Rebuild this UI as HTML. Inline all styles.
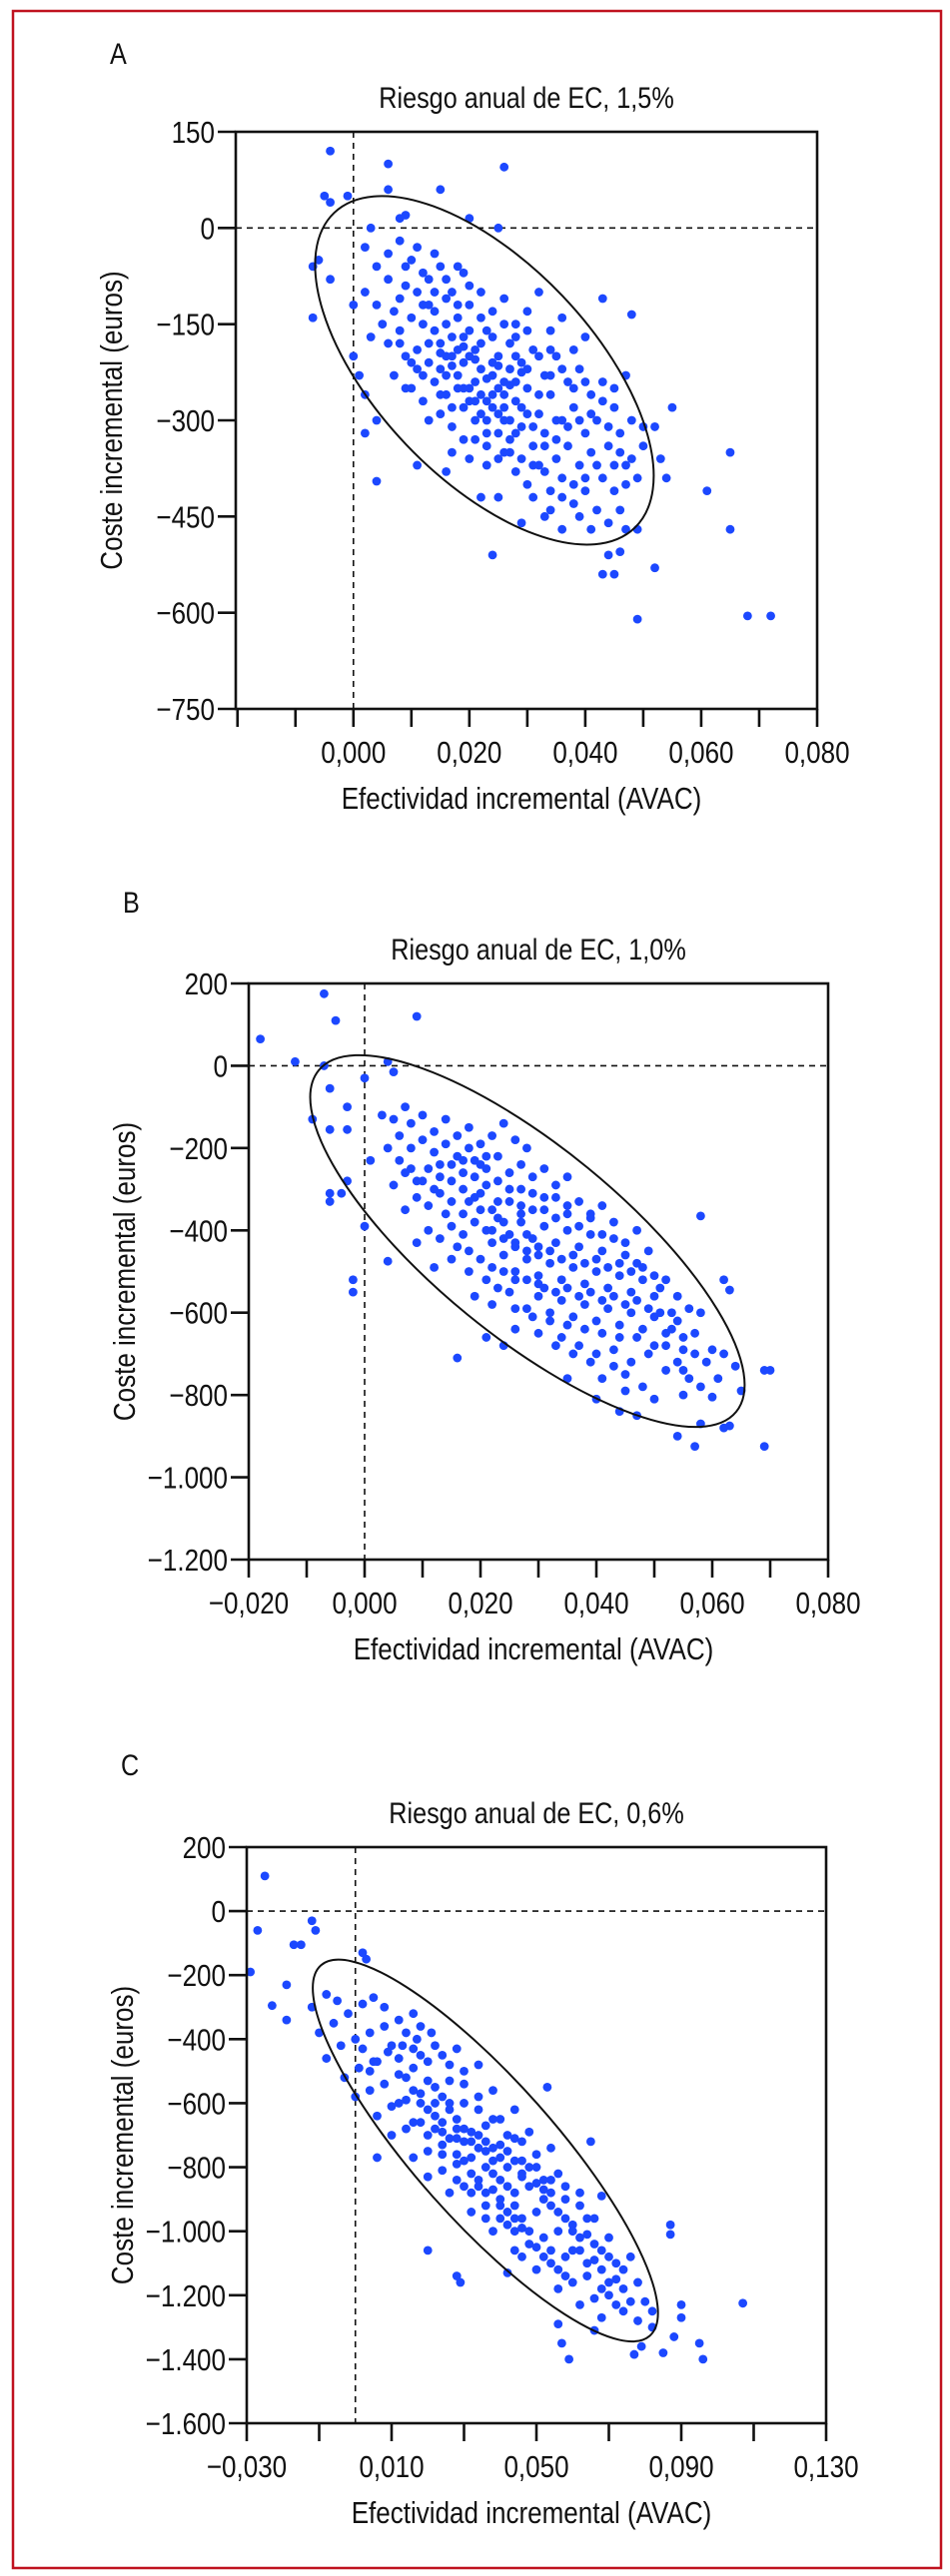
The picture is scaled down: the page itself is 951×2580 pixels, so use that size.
<!DOCTYPE html>
<html><head><meta charset="utf-8"><style>
html,body{margin:0;padding:0;background:#fff}
svg{display:block}
text{font-family:"Liberation Sans",sans-serif;fill:#111}
</style></head><body>
<svg id="fig" width="951" height="2580" viewBox="0 0 951 2580" xmlns="http://www.w3.org/2000/svg">
<rect x="13" y="11" width="929" height="2561" fill="none" stroke="#c0121f" stroke-width="2.5"/>
</svg>
<script>
// ---- Panel A data ----
const xTicksA = [-0.02,-0.01,0,0.01,0.02,0.03,0.04,0.05,0.06,0.07,0.08];
const xLabelsA = ["","","0,000","","0,020","","0,040","","0,060","","0,080"];
const yTicksA = [150,0,-150,-300,-450,-600,-750];
const yLabelsA = ["150","0","\u2212150","\u2212300","\u2212450","\u2212600","\u2212750"];
const ptsA = [[-0.004,120],[0.006,100],[0.026,95],[0.015,60],[0.006,60],[-0.005,50],[-0.001,50],[-0.004,40],[0.008,15],[0.009,20],[0.02,15],[0.025,0],[0.003,0],[-0.006,-50],[-0.004,-80],[-0.007,-60],[-0.007,-140],[0,-120],[0,-200],[0.001,-230],[0.002,-260],[0.002,-320],[0.004,-300],[0.004,-395],[0.011,-370],[0.016,-380],[0.022,-420],[0.024,-510],[0.029,-460],[0.043,-110],[0.048,-135],[0.055,-280],[0.052,-310],[0.053,-360],[0.054,-390],[0.061,-410],[0.065,-350],[0.065,-470],[0.044,-510],[0.046,-505],[0.043,-540],[0.045,-540],[0.049,-610],[0.052,-530],[0.068,-605],[0.072,-605],[0.049,-470],[0.047,-470],
[0.002,-30],[0.004,-60],[0.006,-40],[0.008,-20],[0.010,-50],[0.012,-70],[0.014,-40],[0.016,-80],[0.018,-60],[0.020,-90],[0.011,-100],[0.013,-120],[0.009,-90],[0.007,-130],[0.005,-150],[0.003,-170],[0.006,-180],[0.008,-160],[0.010,-140],[0.012,-150],[0.014,-130],[0.016,-110],[0.018,-140],[0.020,-120],[0.022,-100],[0.024,-130],[0.026,-110],[0.028,-150],[0.030,-130],[0.032,-100],[0.034,-160],[0.036,-140],[0.038,-190],[0.040,-170],[0.009,-200],[0.011,-190],[0.013,-210],[0.015,-180],[0.017,-200],[0.019,-170],[0.021,-190],[0.023,-160],[0.025,-200],[0.027,-180],[0.029,-210],[0.031,-190],[0.033,-230],[0.035,-200],[0.037,-240],[0.039,-220],[0.041,-260],[0.043,-240],[0.045,-280],[0.047,-230],[0.007,-230],[0.010,-250],[0.012,-270],[0.014,-240],[0.016,-260],[0.018,-230],[0.020,-250],[0.022,-220],[0.024,-260],[0.026,-240],[0.028,-270],[0.030,-250],[0.032,-290],[0.034,-260],[0.036,-300],[0.038,-280],[0.040,-320],[0.042,-300],[0.044,-340],[0.046,-320],[0.048,-360],[0.050,-340],[0.013,-300],[0.015,-290],[0.017,-310],[0.019,-280],[0.021,-300],[0.023,-320],[0.025,-290],[0.027,-330],[0.029,-310],[0.031,-340],[0.033,-320],[0.035,-360],[0.037,-340],[0.039,-370],[0.041,-350],[0.043,-390],[0.045,-370],[0.047,-400],[0.049,-390],[0.017,-350],[0.020,-360],[0.023,-370],[0.026,-350],[0.028,-380],[0.030,-400],[0.032,-370],[0.034,-410],[0.036,-390],[0.038,-430],[0.040,-410],[0.042,-440],[0.044,-460],[0.046,-440],[0.033,-450],[0.036,-470],[0.025,-420],[0.019,-330],[0.015,-220],[0.018,-190],[0.021,-240],[0.024,-210],[0.027,-220],[0.023,-270],[0.026,-280],[0.017,-170],[0.019,-210],[0.022,-260],[0.028,-240],[0.025,-250],[0.020,-200],[0.022,-180],[0.016,-230],[0.029,-280],
[0.015,-195],[0.017,-215],[0.019,-185],[0.021,-205],[0.023,-235],[0.025,-215],[0.027,-245],[0.029,-225],[0.018,-250],[0.020,-270],[0.022,-290],[0.024,-280],[0.026,-300],[0.028,-320],[0.030,-290],[0.031,-310],[0.033,-340],[0.035,-330],[0.027,-350],[0.029,-360],[0.031,-370],[0.033,-380],[0.035,-300],[0.037,-310],[0.039,-300],[0.041,-290],[0.044,-310],[0.046,-350],[0.042,-370],[0.040,-390],[0.038,-400],[0.036,-420],[0.012,-120],[0.014,-100],[0.016,-150],[0.018,-120],[0.020,-160],[0.022,-140],[0.024,-170],[0.026,-150],[0.028,-170],[0.030,-160],[0.032,-200],[0.034,-190],[0.036,-220],[0.038,-250],[0.040,-240],[0.008,-110],[0.006,-80],[0.004,-120],[0.002,-100],[0.009,-60],[0.011,-30],[0.013,-80],[0.015,-60],[0.017,-100],[0.019,-70],[0.013,-180],[0.011,-220],[0.009,-250],[0.008,-180],[0.015,-260],[0.017,-280],[0.019,-250],[0.021,-270],[0.023,-300],[0.025,-320],[0.027,-300],[0.021,-330],[0.023,-340],[0.025,-360],[0.031,-420],[0.034,-440],[0.039,-450],[0.041,-470],[0.045,-410],[0.047,-370],[0.048,-300],[0.050,-310],[0.043,-270],[0.045,-250],[0.014,-160],[0.016,-200],[0.012,-230],[0.010,-210],[0.024,-230],[0.026,-260],[0.028,-200],[0.030,-220],[0.032,-260],[0.034,-230]];
const ellA = [0.0226,-222,218,108,46.4]; // centre x, centre y, semi-axes px, angle

// ---- Panel B data ----
const xTicksB = [-0.02,-0.01,0,0.01,0.02,0.03,0.04,0.05,0.06,0.07,0.08];
const xLabelsB = ["\u22120,020","","0,000","","0,020","","0,040","","0,060","","0,080"];
const yTicksB = [200,0,-200,-400,-600,-800,-1000,-1200];
const yLabelsB = ["200","0","\u2212200","\u2212400","\u2212600","\u2212800","\u22121.000","\u22121.200"];
const ptsB = [[-0.018,65],[-0.007,175],[-0.005,110],[0.009,120],[-0.012,10],[-0.007,0],[0.004,10],[0.005,-15],[0,-30],[-0.006,-55],[-0.009,-130],[-0.003,-100],[-0.006,-155],[-0.003,-155],[0.001,-230],[-0.003,-280],[-0.006,-310],[-0.004,-310],[-0.006,-330],[0,-390],[-0.002,-520],[-0.002,-550],[0.004,-475],[0.016,-710],[0.021,-660],[0.024,-680],[0.058,-365],[0.062,-520],[0.063,-545],[0.069,-740],[0.07,-740],[0.069,-925],[0.054,-900],[0.057,-925],[0.062,-880],[0.063,-875],[0.058,-870],[0.047,-850],[0.044,-840],[0.040,-810],[0.05,-810],[0.045,-790],[0.035,-760],[0.055,-800],[0.06,-805],[0.065,-790],[0.06,-690],[0.064,-730],[0.055,-690],[0.058,-600],[0.057,-650],
[0.003,-120],[0.005,-130],[0.007,-100],[0.006,-170],[0.008,-140],[0.010,-120],[0.012,-160],[0.014,-130],[0.004,-200],[0.006,-230],[0.008,-200],[0.010,-180],[0.012,-210],[0.014,-190],[0.016,-170],[0.018,-150],[0.020,-190],[0.022,-170],[0.024,-140],[0.026,-180],[0.028,-200],[0.005,-290],[0.007,-260],[0.009,-280],[0.011,-250],[0.013,-270],[0.015,-240],[0.017,-260],[0.019,-230],[0.021,-250],[0.023,-220],[0.025,-260],[0.027,-240],[0.029,-270],[0.031,-250],[0.033,-290],[0.035,-270],[0.007,-350],[0.009,-320],[0.011,-340],[0.013,-310],[0.015,-330],[0.017,-300],[0.019,-320],[0.021,-290],[0.023,-330],[0.025,-300],[0.027,-340],[0.029,-310],[0.031,-350],[0.033,-320],[0.035,-360],[0.037,-330],[0.039,-370],[0.041,-340],[0.009,-430],[0.011,-400],[0.013,-420],[0.015,-390],[0.017,-410],[0.019,-380],[0.021,-400],[0.023,-370],[0.025,-410],[0.027,-380],[0.029,-420],[0.031,-390],[0.033,-430],[0.035,-400],[0.037,-440],[0.039,-410],[0.041,-450],[0.043,-420],[0.045,-460],[0.012,-490],[0.015,-470],[0.018,-500],[0.020,-470],[0.022,-490],[0.024,-460],[0.026,-500],[0.028,-470],[0.030,-510],[0.032,-480],[0.034,-520],[0.036,-490],[0.038,-530],[0.040,-500],[0.042,-540],[0.044,-510],[0.046,-550],[0.048,-520],[0.050,-560],[0.019,-560],[0.022,-580],[0.025,-550],[0.028,-590],[0.030,-560],[0.032,-600],[0.034,-570],[0.036,-610],[0.038,-580],[0.040,-620],[0.042,-590],[0.044,-630],[0.046,-600],[0.048,-640],[0.050,-610],[0.052,-650],[0.026,-640],[0.030,-650],[0.034,-660],[0.037,-680],[0.040,-700],[0.043,-690],[0.046,-720],[0.049,-700],[0.052,-740],[0.054,-720],[0.056,-760],[0.041,-760],[0.048,-780],[0.053,-600],[0.051,-540],[0.047,-480],[0.024,-420],[0.026,-430],[0.028,-450],[0.022,-430],[0.030,-460],[0.027,-360],
[0.015,-280],[0.017,-230],[0.019,-270],[0.021,-220],[0.023,-280],[0.025,-330],[0.027,-300],[0.029,-350],[0.031,-320],[0.033,-370],[0.035,-340],[0.037,-390],[0.039,-360],[0.041,-410],[0.043,-380],[0.045,-430],[0.047,-400],[0.049,-450],[0.020,-350],[0.022,-400],[0.024,-380],[0.026,-440],[0.028,-410],[0.030,-440],[0.032,-450],[0.034,-470],[0.036,-460],[0.038,-480],[0.040,-470],[0.042,-490],[0.044,-480],[0.046,-500],[0.048,-490],[0.050,-510],[0.052,-520],[0.054,-560],[0.056,-590],[0.054,-620],[0.052,-680],[0.050,-680],[0.047,-660],[0.044,-660],[0.041,-650],[0.038,-640],[0.035,-630],[0.032,-620],[0.029,-610],[0.026,-590],[0.023,-540],[0.021,-520],[0.018,-450],[0.016,-440],[0.014,-360],[0.012,-300],[0.010,-280],[0.008,-250],[0.016,-220],[0.018,-200],[0.020,-240],[0.013,-240],[0.031,-540],[0.033,-550],[0.035,-540],[0.037,-560],[0.039,-550],[0.041,-570],[0.043,-560],[0.045,-580],[0.047,-570],[0.049,-590],[0.051,-600],[0.053,-640],[0.055,-660],[0.057,-700],[0.059,-720],[0.061,-760],[0.062,-700],[0.058,-780],[0.055,-740],[0.043,-730],[0.045,-750],[0.039,-720],[0.036,-700],[0.033,-680],[0.030,-530],[0.028,-520],[0.026,-520],[0.024,-500],[0.022,-350],[0.020,-310],[0.018,-330],[0.017,-360]];
const ellB = [0.0281,-426,270,95,39.3];

// ---- Panel C data ----
const xTicksC = [-0.03,-0.01,0.01,0.03,0.05,0.07,0.09,0.11,0.13];
const xLabelsC = ["\u22120,030","","0,010","","0,050","","0,090","","0,130"];
const yTicksC = [200,0,-200,-400,-600,-800,-1000,-1200,-1400,-1600];
const yLabelsC = ["200","0","\u2212200","\u2212400","\u2212600","\u2212800","\u22121.000","\u22121.200","\u22121.400","\u22121.600"];
const ptsC = [[-0.025,110],[-0.029,-190],[-0.027,-60],[-0.012,-30],[-0.011,-60],[-0.017,-105],[-0.015,-105],[-0.019,-230],[-0.023,-295],[-0.019,-340],[0.002,-130],[0.003,-150],[0.006,-770],[0.020,-1060],[0.028,-1140],[0.029,-1160],[0.042,-1130],[0.053,-550],[0.065,-720],[0.068,-890],[0.087,-980],[0.087,-1010],[0.09,-1230],[0.09,-1270],[0.107,-1225],[0.095,-1350],[0.096,-1400],[0.088,-1330],[0.085,-1380],[0.077,-1385],[0.079,-1360],[0.057,-1350],[0.059,-1400],[0.066,-1310],[0.082,-1300],[0.056,-1290],
[-0.012,-300],[-0.008,-260],[-0.005,-280],[-0.010,-380],[-0.006,-350],[-0.002,-320],[0.002,-290],[0.005,-270],[0.008,-300],[-0.008,-460],[-0.004,-420],[0.000,-400],[0.004,-380],[0.008,-360],[0.012,-340],[0.016,-320],[-0.003,-520],[0.001,-490],[0.005,-470],[0.009,-440],[0.013,-420],[0.017,-400],[0.021,-380],[0.000,-580],[0.004,-560],[0.008,-540],[0.012,-510],[0.016,-490],[0.020,-470],[0.024,-450],[0.028,-430],[0.006,-640],[0.010,-610],[0.014,-590],[0.018,-570],[0.022,-550],[0.026,-530],[0.030,-500],[0.034,-480],[0.010,-700],[0.014,-680],[0.018,-660],[0.022,-640],[0.026,-620],[0.030,-600],[0.034,-580],[0.038,-560],[0.016,-770],[0.020,-750],[0.024,-730],[0.028,-710],[0.032,-690],[0.036,-670],[0.040,-650],[0.044,-620],[0.020,-830],[0.024,-810],[0.028,-790],[0.032,-770],[0.036,-750],[0.040,-730],[0.044,-710],[0.048,-690],[0.026,-880],[0.030,-860],[0.034,-840],[0.038,-820],[0.042,-800],[0.046,-780],[0.050,-760],[0.054,-740],[0.032,-940],[0.036,-920],[0.040,-900],[0.044,-880],[0.048,-860],[0.052,-840],[0.056,-820],[0.038,-1000],[0.042,-980],[0.046,-960],[0.050,-940],[0.054,-920],[0.058,-900],[0.062,-880],[0.044,-1060],[0.048,-1040],[0.052,-1020],[0.056,-1000],[0.060,-980],[0.064,-960],[0.050,-1120],[0.054,-1100],[0.058,-1080],[0.062,-1060],[0.066,-1040],[0.070,-1020],[0.056,-1180],[0.060,-1160],[0.064,-1140],[0.068,-1120],[0.072,-1100],[0.076,-1080],[0.062,-1230],[0.066,-1210],[0.070,-1200],[0.074,-1180],[0.078,-1160],[0.068,-1270],[0.074,-1250],[0.080,-1220],[0.046,-820],[0.042,-860],[0.038,-780],[0.034,-740],[0.030,-720],[0.036,-800],[0.040,-840],[0.028,-680],[0.024,-660],[0.052,-900],[0.044,-920],
[0.016,-430],[0.018,-450],[0.020,-530],[0.022,-600],[0.024,-580],[0.026,-600],[0.028,-650],[0.030,-680],[0.032,-720],[0.034,-700],[0.036,-720],[0.038,-740],[0.040,-770],[0.042,-750],[0.044,-780],[0.046,-830],[0.048,-800],[0.050,-850],[0.052,-870],[0.054,-880],[0.056,-940],[0.058,-960],[0.060,-1000],[0.062,-1020],[0.064,-1010],[0.066,-1090],[0.068,-1060],[0.070,-1160],[0.072,-1150],[0.030,-780],[0.032,-820],[0.034,-860],[0.036,-880],[0.038,-870],[0.040,-920],[0.042,-940],[0.044,-960],[0.046,-990],[0.048,-1000],[0.050,-1050],[0.052,-1080],[0.054,-1060],[0.056,-1120],[0.058,-1140],[0.020,-620],[0.022,-680],[0.024,-690],[0.026,-710],[0.028,-760],[0.018,-600],[0.016,-560],[0.014,-520],[0.012,-460],[0.010,-420],[0.006,-470],[0.004,-500],[0.002,-430],[0.014,-380],[0.018,-360],[0.022,-420],[0.026,-480],[0.030,-540],[0.034,-620],[0.038,-650],[0.042,-700],[0.046,-720],[0.050,-800],[0.054,-840],[0.058,-860],[0.062,-920],[0.066,-960],[0.070,-1080],[0.074,-1120],[0.060,-1060],[0.064,-1100],[0.068,-1180],[0.072,-1230],[0.078,-1280],[0.082,-1250],[0.076,-1220],[0.046,-1080],[0.044,-1000],[0.040,-960],[0.036,-960],[0.032,-880],[0.028,-840],[0.024,-760],[0.020,-700],[0.016,-660],[0.012,-600]];
const ellC = [0.0359,-748,248,70,48.4];

const NS = "http://www.w3.org/2000/svg";
const svg = document.getElementById('fig');
function mk(tag, attrs, parent){
  const e = document.createElementNS(NS, tag);
  for (const k in attrs) e.setAttribute(k, attrs[k]);
  (parent||svg).appendChild(e);
  return e;
}
function ctext(str, x, y, size, anchor, rot, parent){
  const g = mk('g', {transform:`translate(${x},${y}) rotate(${rot||0}) scale(0.84,1)`}, parent);
  const t = mk('text', {x:0, y:0, 'font-size':size, 'text-anchor':anchor}, g);
  t.textContent = str;
  return g;
}

function panel(cfg){
  const {id,L,R,T,B,x0,x1,y0,y1,xTicks,xLabels,yTicks,yLabels,pts,ell,letter,title,lx,ly} = cfg;
  const g = mk('g', {});
  
  
  const sx = v => L + (v - x0) / (x1 - x0) * (R - L);
  const sy = v => T + (y1 - v) / (y1 - y0) * (B - T);

  const lt = ctext(letter, lx, ly, 30, 'start', 0, g);
  
  
  const tt = ctext(title, (L+R)/2, T-24, 30, 'middle', 0, g);
  
  

  const hz = mk('line', {x1:L, x2:R, y1:sy(0), y2:sy(0), stroke:'#111', 'stroke-width':1.6, 'stroke-dasharray':'6,5'}, g);
  
  
  const vt = mk('line', {x1:sx(0), x2:sx(0), y1:T, y2:B, stroke:'#111', 'stroke-width':1.6, 'stroke-dasharray':'6,5'}, g);
  
  

  const pg = mk('g', {fill:'#1c48ff'}, g);
  
  
  pts.forEach(p => {
    const c = mk('circle', {cx:sx(p[0]), cy:sy(p[1]), r:4.4}, pg);
    
    
  });

  const ex = sx(ell[0]), ey = sy(ell[1]);
  const el = mk('ellipse', {cx:ex, cy:ey, rx:ell[2], ry:ell[3], fill:'none', stroke:'#111', 'stroke-width':2, transform:`rotate(${ell[4]} ${ex} ${ey})`}, g);
  
  

  const fr = mk('rect', {x:L, y:T, width:R-L, height:B-T, fill:'none', stroke:'#111', 'stroke-width':2.6}, g);
  
  

  xTicks.forEach((v,i) => {
    const X = sx(v);
    const tk = mk('line', {x1:X, x2:X, y1:B, y2:B+18, stroke:'#111', 'stroke-width':2.6}, g);
    
    
    if (xLabels[i]) {
      const lb = ctext(xLabels[i], X, B+54, 31, 'middle', 0, g);
      
      
    }
  });
  yTicks.forEach((v,i) => {
    const Y = sy(v);
    const tk = mk('line', {x1:L-18, x2:L, y1:Y, y2:Y, stroke:'#111', 'stroke-width':2.6}, g);
    
    
    const lb = ctext(yLabels[i], L-21, Y+11, 31, 'end', 0, g);
    
    
  });
  const xt = ctext('Efectividad incremental (AVAC)', (L+R)/2 - 5, B+100, 31, 'middle', 0, g);
  
  
  const yt = ctext('Coste incremental (euros)', L-114, (T+B)/2, 31, 'middle', -90, g);
  
  
}

panel({id:'a', L:236, R:818, T:132, B:710, x0:-0.0203, x1:0.08, y0:-750, y1:150,
  xTicks:xTicksA, xLabels:xLabelsA, yTicks:yTicksA, yLabels:yLabelsA, pts:ptsA, ell:ellA,
  letter:'A', title:'Riesgo anual de EC, 1,5%', lx:110, ly:64});
panel({id:'b', L:249, R:829, T:985, B:1562, x0:-0.02, x1:0.08, y0:-1200, y1:200,
  xTicks:xTicksB, xLabels:xLabelsB, yTicks:yTicksB, yLabels:yLabelsB, pts:ptsB, ell:ellB,
  letter:'B', title:'Riesgo anual de EC, 1,0%', lx:123, ly:914});
panel({id:'c', L:247, R:827, T:1850, B:2427, x0:-0.03, x1:0.13, y0:-1600, y1:200,
  xTicks:xTicksC, xLabels:xLabelsC, yTicks:yTicksC, yLabels:yLabelsC, pts:ptsC, ell:ellC,
  letter:'C', title:'Riesgo anual de EC, 0,6%', lx:121, ly:1778});
</script>
</body></html>
